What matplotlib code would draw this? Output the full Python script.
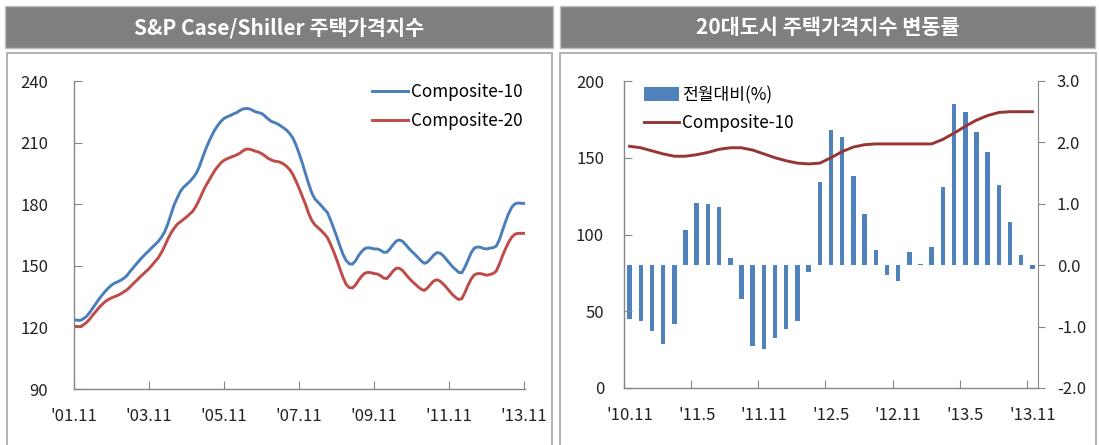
import matplotlib
matplotlib.use("Agg")
import matplotlib.pyplot as plt
from matplotlib.patches import Rectangle
from matplotlib.lines import Line2D
from matplotlib.patches import Patch
import numpy as np

plt.rcParams['font.family'] = ['Noto Sans CJK KR', 'DejaVu Sans']

# ---------------- data ----------------
left_title = "S&P Case/Shiller 주택가격지수"
right_title = "20대도시 주택가격지수 변동률"

left_xticklabels = ["'01.11", "'03.11", "'05.11", "'07.11", "'09.11", "'11.11", "'13.11"]
right_xticklabels = ["'10.11", "'11.5", "'11.11", "'12.5", "'12.11", "'13.5", "'13.11"]

# monthly index 2001.11 - 2013.11
composite10 = [
    123.8, 123.5, 123.4, 124.2, 125.4, 127.2, 129.4, 131.6, 133.8, 135.8, 137.6, 139.2,
    140.6, 141.6, 142.2, 143.0, 144.0, 145.4, 147.4, 149.2, 151.0, 152.8, 154.4, 156.0,
    157.4, 159.0, 160.4, 162.0, 164.0, 166.6, 170.4, 175.0, 179.6, 183.0, 186.2, 188.2,
    189.6, 191.0, 192.8, 194.8, 198.0, 202.2, 206.4, 210.0, 213.2, 216.2, 218.4, 220.4,
    221.8, 222.6, 223.2, 224.0, 224.6, 225.6, 226.4, 226.6, 226.5, 225.8, 225.0, 224.6,
    224.2, 223.0, 221.6, 220.4, 219.8, 219.2, 218.2, 217.2, 216.0, 214.4, 212.2, 208.8,
    204.6, 200.0, 195.0, 190.0, 185.6, 182.6, 181.0, 179.4, 177.6, 176.0, 172.4, 168.4,
    164.2, 159.8, 155.6, 152.6, 151.0, 150.8, 152.4, 155.0, 157.0, 158.4, 158.8, 158.6,
    158.2, 158.2, 157.6, 156.6, 156.6, 158.2, 160.2, 162.0, 162.6, 162.0, 160.4, 158.6,
    157.0, 155.6, 154.0, 152.4, 151.2, 151.8, 153.4, 155.2, 156.4, 156.2, 155.0, 153.2,
    151.4, 149.6, 148.2, 146.8, 146.6, 149.4, 152.8, 156.4, 158.6, 159.2, 159.0, 158.4,
    158.2, 158.6, 158.8, 159.6, 162.6, 167.2, 171.6, 175.6, 178.6, 180.2, 180.6, 180.4,
    180.4]
composite20 = [
    120.6, 120.4, 120.4, 121.2, 122.4, 124.0, 126.0, 127.8, 129.6, 131.2, 132.6, 133.6,
    134.4, 135.0, 135.6, 136.4, 137.4, 138.4, 139.8, 141.4, 142.8, 144.4, 145.8, 147.2,
    148.6, 150.4, 152.2, 154.0, 156.6, 159.6, 163.0, 166.0, 168.2, 170.2, 171.4, 172.6,
    173.8, 175.2, 176.6, 179.0, 182.0, 185.4, 188.6, 191.2, 193.8, 196.4, 198.4, 200.2,
    201.4, 202.2, 202.8, 203.4, 204.0, 204.8, 206.0, 206.8, 206.8, 206.4, 205.8, 205.4,
    204.6, 203.6, 202.4, 201.6, 201.0, 200.8, 200.4, 199.6, 198.4, 196.8, 194.4, 191.2,
    187.6, 183.8, 180.0, 175.6, 172.2, 170.0, 168.6, 167.2, 165.6, 163.8, 160.6, 157.0,
    153.0, 148.6, 144.4, 141.0, 139.4, 139.2, 140.6, 143.0, 145.0, 146.4, 146.8, 146.6,
    146.2, 146.0, 145.2, 144.0, 143.8, 145.4, 147.4, 148.8, 148.8, 147.8, 146.0, 144.2,
    142.6, 141.2, 139.8, 138.6, 138.0, 139.2, 141.0, 142.6, 143.2, 142.6, 141.2, 139.6,
    137.8, 136.0, 134.6, 133.6, 134.0, 137.0, 140.6, 143.6, 145.6, 146.2, 146.2, 145.8,
    145.4, 145.8, 146.2, 147.4, 150.8, 154.8, 158.4, 161.6, 164.0, 165.4, 165.8, 165.8,
    165.8]

# monthly 2010.11 - 2013.11
mom_change = [
    -0.88, -0.91, -1.07, -1.28, -0.96, 0.58, 1.02, 1.00, 0.94, 0.11, -0.55, -1.32,
    -1.37, -1.18, -1.04, -0.91, -0.11, 1.35, 2.21, 2.09, 1.46, 0.84, 0.25, -0.16,
    -0.25, 0.21, 0.02, 0.30, 1.28, 2.62, 2.50, 2.17, 1.85, 1.30, 0.70, 0.16,
    -0.07]
comp10_recent = [
    157.5, 156.5, 154.5, 152.5, 151.0, 151.0, 152.0, 153.5, 155.5, 156.5, 156.5, 155.0,
    152.5, 150.0, 148.0, 146.5, 146.0, 146.5, 150.0, 154.0, 157.0, 158.5, 159.0, 159.0,
    159.0, 159.0, 159.0, 159.0, 162.0, 166.0, 170.5, 174.5, 177.5, 179.5, 180.0, 180.0,
    180.0]

# ---------------- style ----------------
W, H = 1099, 445
BLUE = '#4A7EBB'
RED = '#BE4B48'
MAROON = '#943634'
BAR = '#4F81BD'
SPINE = '#868686'
TXT = '#222222'
FS = 12
LFS = 12.3

fig = plt.figure(figsize=(W / 100, H / 100), dpi=100)

def fx(px):
    return px / W

def fy(py):
    return 1 - py / H

def rect(x0, y0, x1, y1, **kw):
    fig.patches.append(Rectangle((fx(x0), fy(y1)), fx(x1) - fx(x0), fy(y0) - fy(y1),
                                 transform=fig.transFigure, figure=fig, zorder=-10, **kw))

# title bars
rect(5, 6, 553, 48, facecolor='#7F7F7F', edgecolor='#BFBFBF', lw=1)
rect(560, 6, 1095, 48, facecolor='#7F7F7F', edgecolor='#BFBFBF', lw=1)
fig.text(fx(279), fy(28), left_title, color='white', fontsize=15, fontweight='bold',
         ha='center', va='center')
fig.text(fx(828), fy(28), right_title, color='white', fontsize=15, fontweight='bold',
         ha='center', va='center')
# panel boxes
rect(7, 53, 552, 447, facecolor='white', edgecolor='#A6A6A6', lw=1.2)
rect(560, 53, 1096, 447, facecolor='white', edgecolor='#A6A6A6', lw=1.2)

def style_axes(ax):
    for s in ('top', 'right'):
        ax.spines[s].set_visible(False)
    for s in ('left', 'bottom'):
        ax.spines[s].set_color(SPINE)
        ax.spines[s].set_linewidth(1.0)
    ax.set_facecolor('none')

# ---------------- left chart ----------------
ax1 = fig.add_axes([fx(74), fy(389), fx(525) - fx(74), fy(81) - fy(389)])
style_axes(ax1)
x1 = np.arange(len(composite10))
ax1.plot(x1, composite10, color=BLUE, lw=2.1, label='Composite-10')
ax1.plot(x1, composite20, color=RED, lw=2.1, label='Composite-20')
ax1.set_xlim(0, 144.2)
ax1.set_ylim(90, 240)
ax1.set_yticks(np.arange(90, 241, 30))
ax1.set_xticks(np.arange(0, 145, 24))
ax1.set_xticklabels(left_xticklabels)
ax1.tick_params(axis='y', direction='in', length=6, color=SPINE, labelsize=FS,
                labelcolor=TXT, pad=18.5)
ax1.tick_params(axis='x', direction='in', length=6, color=SPINE, labelsize=FS,
                labelcolor=TXT, pad=14)
ax1.legend(loc='upper left', bbox_to_anchor=(fx(372), fy(83)),
           bbox_transform=fig.transFigure, frameon=False, fontsize=LFS,
           handlelength=2.1, handletextpad=0.18, labelspacing=0.65,
           borderaxespad=0, borderpad=0)

# ---------------- right chart ----------------
ax2 = fig.add_axes([fx(624), fy(388), fx(1038) - fx(624), fy(81) - fy(388)])
style_axes(ax2)
ax3 = ax2.twinx()
ax3.set_facecolor('none')
for s in ('top', 'left', 'bottom'):
    ax3.spines[s].set_visible(False)
ax3.spines['right'].set_color(SPINE)

xb = np.arange(len(mom_change))
ax3.bar(xb, mom_change, width=0.4, color=BAR, zorder=2)
ax3.set_ylim(-2, 3)
ax3.set_yticks(np.arange(-2, 3.1, 1))
ax3.set_yticklabels([f"{v:.1f}" for v in np.arange(-2, 3.1, 1)])
ax3.tick_params(axis='y', direction='out', length=5, color=SPINE, labelsize=FS,
                labelcolor=TXT, pad=8.5)

ax2.set_zorder(ax3.get_zorder() + 1)
ax2.patch.set_visible(False)
ax2.plot(xb, comp10_recent, color=MAROON, lw=2.1)
ax2.set_ylim(0, 200)
ax2.set_yticks(np.arange(0, 201, 50))
ax2.set_xlim(-0.5, len(mom_change) - 0.5)
ax2.set_xticks(np.arange(-0.5, len(mom_change), 6))
ax2.set_xticklabels([])
ax2.set_xticks(np.arange(0, len(mom_change), 6), minor=True)
ax2.set_xticklabels(right_xticklabels, minor=True)
ax2.tick_params(axis='x', which='major', direction='in', length=6, color=SPINE)
ax2.tick_params(axis='x', which='minor', length=0, labelsize=FS, labelcolor=TXT, pad=14)
ax2.tick_params(axis='y', direction='in', length=6, color=SPINE, labelsize=FS,
                labelcolor=TXT, pad=14.4)

handles = [Patch(facecolor=BAR, edgecolor='none'), Line2D([], [], color=MAROON, lw=2.1)]
ax2.legend(handles, ['전월대비(%)', 'Composite-10'], loc='upper left',
           bbox_to_anchor=(fx(644), fy(86)), bbox_transform=fig.transFigure,
           frameon=False, fontsize=LFS, handlelength=2.05, handleheight=0.85,
           handletextpad=0.18, labelspacing=0.6, borderaxespad=0, borderpad=0)

fig.savefig('out.png', dpi=100)
